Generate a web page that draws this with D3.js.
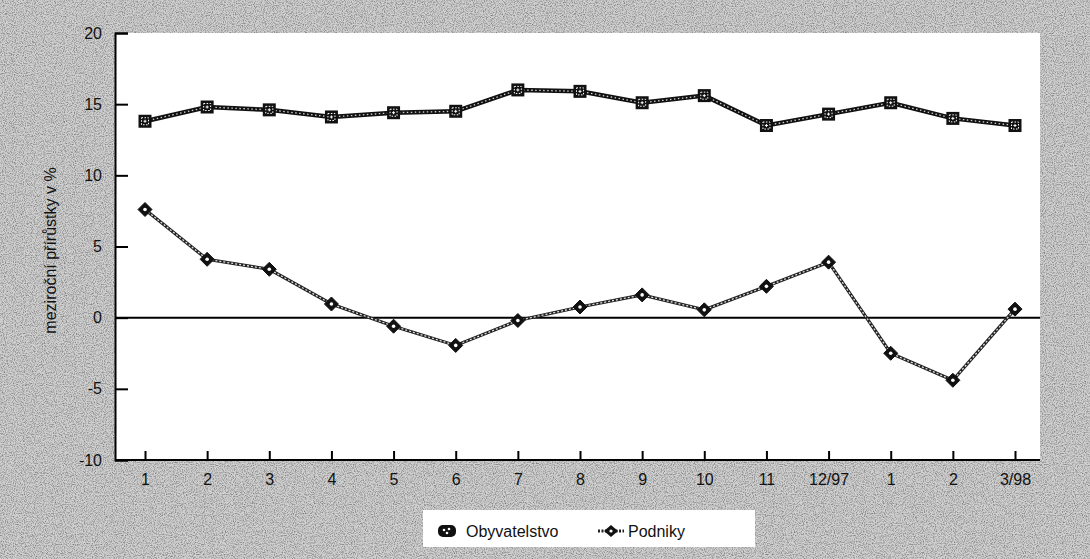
<!DOCTYPE html>
<html>
<head>
<meta charset="utf-8">
<script src="https://cdn.jsdelivr.net/npm/d3@7"></script>
<style>
  html, body { margin: 0; padding: 0; background: #c0c0c0; }
  svg { display: block; }
  text { font-family: "Liberation Sans", Arial, sans-serif; fill: #111; }
</style>
</head>
<body>
<svg id="chart" width="1090" height="559"></svg>
<script>
// Month labels (1997 → 3/1998)
const categories = ["1", "2", "3", "4", "5", "6", "7", "8", "9", "10", "11", "12/97", "1", "2", "3/98"];
// Year-on-year growth, %
const obyvatelstvo = [13.8, 14.8, 14.6, 14.1, 14.4, 14.5, 16.0, 15.9, 15.1, 15.6, 13.5, 14.3, 15.1, 14.0, 13.5];
const podniky = [7.6, 4.1, 3.4, 0.96, -0.6, -1.95, -0.2, 0.75, 1.6, 0.55, 2.2, 3.9, -2.5, -4.4, 0.6];
const yTicks = [-10, -5, 0, 5, 10, 15, 20];
const seriesNames = ["Obyvatelstvo", "Podniky"];

const svg = d3.select("#chart");
const W = 1090, H = 559;
const plot = { left: 115, right: 1040, top: 33, bottom: 460 };
const FONT = "Liberation Sans, Arial, sans-serif";

// grainy grey paper background
const defs = svg.append("defs");
const grain = defs.append("filter").attr("id", "grain").attr("x", 0).attr("y", 0).attr("width", "100%").attr("height", "100%");
grain.append("feTurbulence").attr("type", "fractalNoise").attr("baseFrequency", 0.9).attr("numOctaves", 2).attr("seed", 3);
grain.append("feColorMatrix").attr("type", "matrix")
  .attr("values", "0 0 0 0 0  0 0 0 0 0  0 0 0 0 0  0 0 0 -2.2 1.3");
svg.append("rect").attr("width", W).attr("height", H).attr("fill", "#d0d0d0");
svg.append("rect").attr("width", W).attr("height", H).attr("fill", "#000").attr("filter", "url(#grain)").attr("opacity", 0.4);

// white plotting area
svg.append("rect")
  .attr("x", plot.left).attr("y", plot.top)
  .attr("width", plot.right - plot.left).attr("height", plot.bottom - plot.top)
  .attr("fill", "#fff");

const x = d3.scalePoint().domain(d3.range(categories.length)).range([145, 1015]);
const y = d3.scaleLinear().domain([-10, 20]).range([plot.bottom, plot.top]);

// y axis with inward ticks
const yAxis = svg.append("g").attr("transform", `translate(${plot.left},0)`)
  .call(d3.axisLeft(y).tickValues(yTicks).tickFormat(d => String(d)).tickSize(-13).tickPadding(13));
yAxis.select(".domain").attr("stroke", "#000").attr("stroke-width", 2);
yAxis.selectAll(".tick line").attr("stroke", "#000").attr("stroke-width", 2);
yAxis.selectAll(".tick text").attr("font-size", 16).attr("fill", "#111").attr("font-family", FONT);

// x axis with inward ticks
const xAxis = svg.append("g").attr("transform", `translate(0,${plot.bottom})`)
  .call(d3.axisBottom(x).tickFormat(i => categories[i]).tickSize(-9).tickPadding(14).tickSizeOuter(0));
xAxis.select(".domain").attr("stroke", "#000").attr("stroke-width", 2)
  .attr("d", `M${plot.left},0H${plot.right}`);
xAxis.selectAll(".tick line").attr("stroke", "#000").attr("stroke-width", 2);
xAxis.selectAll(".tick text").attr("font-size", 16).attr("fill", "#111").attr("font-family", FONT);

// zero line
svg.append("line")
  .attr("x1", plot.left).attr("x2", plot.right)
  .attr("y1", y(0)).attr("y2", y(0))
  .attr("stroke", "#000").attr("stroke-width", 2);

// y axis title
svg.append("text")
  .attr("transform", `translate(56,${(plot.top + plot.bottom) / 2 + 4}) rotate(-90)`)
  .attr("text-anchor", "middle").attr("font-size", 16)
  .text("meziroční přírůstky v %");

const line = d3.line().x((d, i) => x(i)).y(d => y(d));

// Obyvatelstvo: heavy textured line with square markers
svg.append("path").datum(obyvatelstvo).attr("d", line)
  .attr("fill", "none").attr("stroke", "#111").attr("stroke-width", 4.5);
svg.append("path").datum(obyvatelstvo).attr("d", line)
  .attr("fill", "none").attr("stroke", "#fff").attr("stroke-width", 1.3)
  .attr("stroke-dasharray", "1.5,2.5").attr("opacity", 0.8);
const sq = svg.append("g").selectAll("g").data(obyvatelstvo).join("g")
  .attr("transform", (d, i) => `translate(${x(i)},${y(d)})`);
sq.append("rect").attr("x", -6.5).attr("y", -6.5).attr("width", 13).attr("height", 13).attr("fill", "#111");
sq.append("rect").attr("x", -3.5).attr("y", -3.5).attr("width", 7).attr("height", 7)
  .attr("fill", "none").attr("stroke", "#fff").attr("stroke-width", 1).attr("stroke-dasharray", "1.5,1.5");
sq.append("path").attr("d", "M-1.5,0H1.5M0,-1.5V1.5").attr("stroke", "#fff").attr("stroke-width", 1);

// Podniky: lighter textured line with diamond markers
svg.append("path").datum(podniky).attr("d", line)
  .attr("fill", "none").attr("stroke", "#222").attr("stroke-width", 3.2);
svg.append("path").datum(podniky).attr("d", line)
  .attr("fill", "none").attr("stroke", "#fff").attr("stroke-width", 1.3)
  .attr("stroke-dasharray", "2,2").attr("opacity", 0.85);
const dm = svg.append("g").selectAll("g").data(podniky).join("g")
  .attr("transform", (d, i) => `translate(${x(i)},${y(d)})`);
dm.append("path").attr("d", "M0,-7L7,0L0,7L-7,0Z").attr("fill", "#111")
  .attr("stroke", "#111").attr("stroke-width", 1).attr("stroke-linejoin", "round");
dm.append("circle").attr("r", 1.8).attr("fill", "#fff");

// legend
const lg = svg.append("g");
lg.append("rect").attr("x", 423).attr("y", 510).attr("width", 332).attr("height", 37).attr("fill", "#fff");
const l1 = lg.append("g").attr("transform", "translate(447,531)");
l1.append("rect").attr("x", -9).attr("y", -6).attr("width", 18).attr("height", 12).attr("rx", 5).attr("fill", "#111");
l1.append("circle").attr("r", 1.3).attr("cx", -3).attr("cy", -1).attr("fill", "#fff");
l1.append("circle").attr("r", 1.3).attr("cx", 2).attr("cy", -2).attr("fill", "#fff");
l1.append("circle").attr("r", 1.3).attr("cx", 0).attr("cy", 2).attr("fill", "#fff");
lg.append("text").attr("x", 466).attr("y", 537).attr("font-size", 16).text(seriesNames[0]);
const l2 = lg.append("g").attr("transform", "translate(611,531)");
l2.append("path").attr("d", "M-13,0H13").attr("stroke", "#222").attr("stroke-width", 3).attr("stroke-dasharray", "2,1.5");
l2.append("path").attr("d", "M0,-6L7,0L0,6L-7,0Z").attr("fill", "#111");
l2.append("circle").attr("r", 1.6).attr("fill", "#fff");
lg.append("text").attr("x", 628).attr("y", 537).attr("font-size", 16).text(seriesNames[1]);
</script>
</body>
</html>
